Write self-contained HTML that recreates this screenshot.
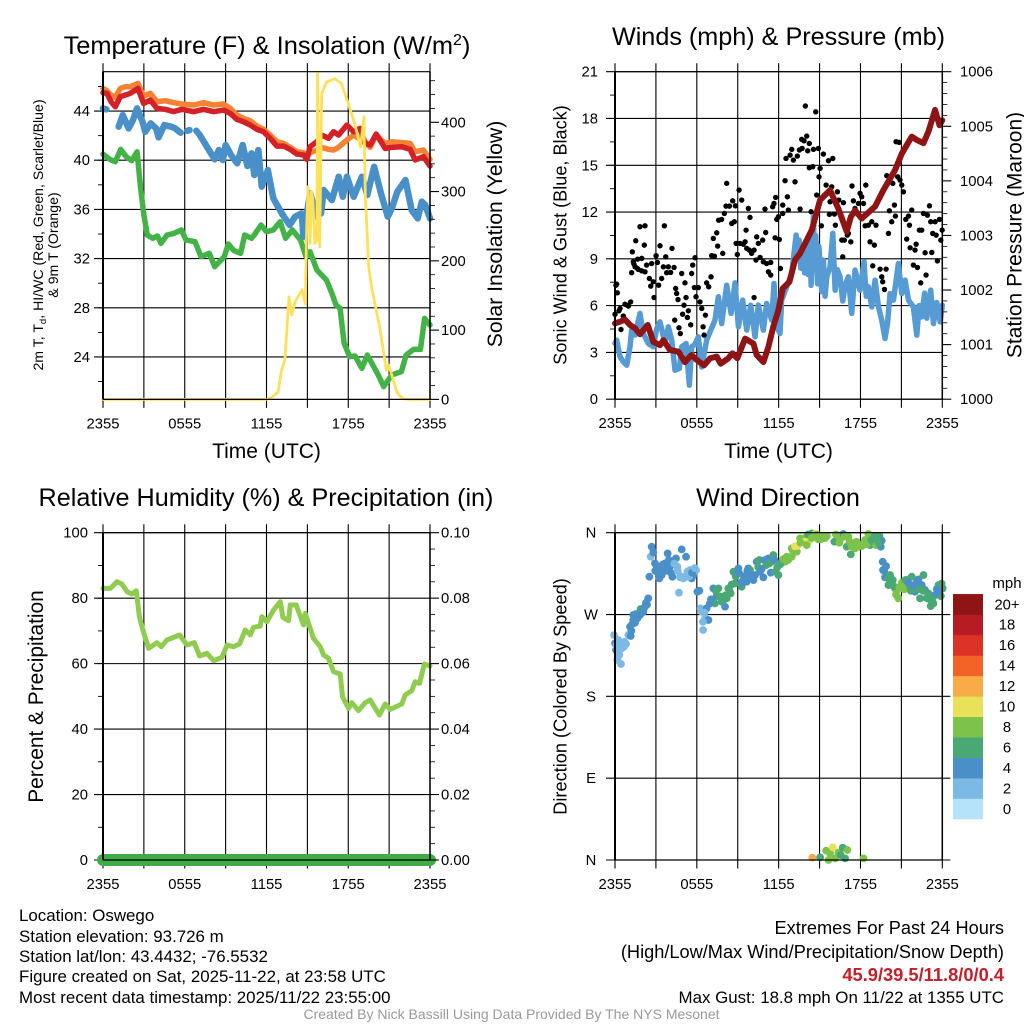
<!DOCTYPE html>
<html lang="en">
<head>
<meta charset="utf-8">
<title>Oswego Meteogram</title>
<style>
html,body{margin:0;padding:0;background:#fff;}
svg{display:block;font-family:"Liberation Sans",sans-serif;}
text{fill:#000;}
</style>
</head>
<body>
<svg id="chart" xmlns="http://www.w3.org/2000/svg" width="1024" height="1024" viewBox="0 0 1024 1024">
<rect x="0" y="0" width="1024" height="1024" fill="#fff"/>
<g id="layer-grid"></g>
<g id="layer-data"></g>
<g id="layer-axes"></g>

<text x="267" y="54" font-size="25.4" text-anchor="middle">Temperature (F) &amp; Insolation (W/m<tspan dy="-9" font-size="16">2</tspan><tspan dy="9">)</tspan></text>
<text x="778.5" y="45" font-size="25.2" text-anchor="middle">Winds (mph) &amp; Pressure (mb)</text>
<text x="266" y="506" font-size="25.2" text-anchor="middle">Relative Humidity (%) &amp; Precipitation (in)</text>
<text x="778" y="506" font-size="25.2" text-anchor="middle">Wind Direction</text>

<text x="266.5" y="458" font-size="21" text-anchor="middle">Time (UTC)</text>
<text x="778.5" y="458" font-size="21" text-anchor="middle">Time (UTC)</text>

<text transform="translate(43,235) rotate(-90)" font-size="14.1" text-anchor="middle">2m T, T<tspan dy="3" font-size="9.5">d</tspan><tspan dy="-3">, HI/WC (Red, Green, Scarlet/Blue)</tspan></text>
<text transform="translate(58,245) rotate(-90)" font-size="14.1" text-anchor="middle">&amp; 9m T (Orange)</text>
<text transform="translate(502,234) rotate(-90)" font-size="21.2" text-anchor="middle">Solar Insolation (Yellow)</text>
<text transform="translate(566.5,235) rotate(-90)" font-size="18.1" text-anchor="middle">Sonic Wind &amp; Gust (Blue, Black)</text>
<text transform="translate(1021.5,235) rotate(-90)" font-size="21" text-anchor="middle">Station Pressure (Maroon)</text>
<text transform="translate(43,696.5) rotate(-90)" font-size="20.9" text-anchor="middle">Percent &amp; Precipitation</text>
<text transform="translate(566.5,696.5) rotate(-90)" font-size="18.2" text-anchor="middle">Direction (Colored By Speed)</text>

<g id="legend">
<text x="1007" y="588" font-size="15" text-anchor="middle">mph</text>
</g>

<g font-size="16.9">
<text x="19" y="921">Location: Oswego</text>
<text x="19" y="942">Station elevation: 93.726 m</text>
<text x="19" y="962">Station lat/lon: 43.4432; -76.5532</text>
<text x="19" y="982">Figure created on Sat, 2025-11-22, at 23:58 UTC</text>
<text x="19" y="1003">Most recent data timestamp: 2025/11/22 23:55:00</text>
</g>
<g font-size="16.9" text-anchor="end">
<text x="1004" y="934" font-size="18.2">Extremes For Past 24 Hours</text>
<text x="1004" y="958" font-size="18.2">(High/Low/Max Wind/Precipitation/Snow Depth)</text>
<text x="1004" y="981" font-size="18.3" font-weight="bold" style="fill:#c4202a">45.9/39.5/11.8/0/0.4</text>
<text x="1004" y="1003">Max Gust: 18.8 mph On 11/22 at 1355 UTC</text>
</g>
<text x="511.5" y="1019" font-size="14" text-anchor="middle" style="fill:#9a9a9a">Created By Nick Bassill Using Data Provided By The NYS Mesonet</text>
</svg>

<script>
// ---- shared axis data ----
const gridHours = [0, 3, 6, 9, 12, 15, 18, 21, 24];
const timeTickHours = [0, 6, 12, 18, 24];
const timeTickLabels = ["2355", "0555", "1155", "1755", "2355"];

// ---- temperature panel ----
const tempTicks = [24, 28, 32, 36, 40, 44];
const insolationTicks = [0, 100, 200, 300, 400];

const airTempHours = [0,0.29,0.59,0.9,1.27,1.64,2,2.57,2.98,3.47,3.96,4.57,5.18,5.79,6.65,7.38,8.12,8.85,9.34,9.83,10.32,10.81,11.3,11.78,12.27,12.76,13.25,13.74,14.23,14.72,14.96,15.2,15.7,16.06,16.55,16.92,17.29,17.9,18.39,18.88,19.24,19.61,20.05,20.71,21.2,21.93,22.54,22.91,23.52,24];
const airTempValues = [45.49,45.44,44.76,44.35,45.17,45.3,45.44,45.84,44.62,44.89,44.22,44.14,43.95,44.14,43.95,44.14,43.95,44.08,43.81,43.32,43.13,42.86,42.51,42.32,41.78,41.15,41.15,40.88,40.5,40.42,40.07,41.1,41.51,42.05,41.78,42.32,42.05,42.86,42.32,42.59,41.37,41.24,42.13,40.96,41.05,41.1,40.88,40.02,40.29,39.53];
const nineMeterTempValues = [45.84,45.65,45.3,45.11,45.84,45.98,45.98,46.25,45.22,45.44,44.76,44.84,44.68,44.57,44.49,44.68,44.49,44.57,44.22,43.67,43.4,43.21,42.78,42.51,42.05,41.51,41.37,41.05,40.69,40.61,40.29,40.61,40.83,41.05,40.88,40.83,41.05,41.64,42.05,41.7,41.5,41.05,42.05,41.37,41.5,41.43,41.37,40.69,40.83,40.07];

const heatIndexHours = [0,0.25,0.5,1.15,1.45,1.88,2.2,2.5,2.9,3.1,3.5,3.9,4.08,4.5,5,5.3,5.7,5.9,6.2,6.35,6.6,6.85,7.1,7.4,7.85,8.2,8.5,8.8,9,9.4,9.85,10.25,10.6,10.9,11.1,11.4,11.65,12.1,12.5,13.2,13.7,14.1,14.6,14.7,15.2,15.7,16,16.2,16.8,17.3,17.6,17.9,18.4,19,19.4,19.9,20.4,20.9,21.2,21.6,22.2,22.65,23.1,23.4,23.65,24];
const heatIndexValues = [44.22,44.14,null,42.73,43.67,42.59,43.27,44.22,43.13,42.32,43,42.59,41.86,42.86,42.73,42.59,42.24,null,42.4,42.45,null,42.4,42.05,41.51,40.69,40.07,40.83,40.02,41.24,40.42,39.75,41.24,39.53,40.56,38.8,40.83,37.85,39.2,36.9,35.54,34.73,35.41,35.68,33.78,37.31,35.41,35.68,37.58,36.76,38.66,37.03,38.66,37.03,38.66,37.17,39.47,37.31,35.41,36.09,37.44,38.39,35.95,35.27,36.63,36.36,35.27];

const dewPointHours = [0,0.5,0.9,1.3,1.7,2.1,2.5,2.75,3,3.25,3.65,4,4.25,4.7,5.2,5.75,6.1,6.75,7.2,7.8,8.2,8.9,9.2,9.6,10.1,10.4,10.9,11.1,11.6,12,12.5,13,13.4,13.9,14.5,14.9,15.2,15.7,16.4,16.8,17.1,17.4,17.7,18.1,18.5,19,19.4,20.2,20.6,21.2,21.9,22.25,22.8,23.3,23.6,24];
const dewPointValues = [40.5,40.07,39.88,40.88,40.29,39.96,40.69,37.85,35.54,33.92,33.65,33.84,33.24,33.92,34.05,34.33,33.51,33.38,32.16,32.43,31.34,32.16,33.19,32.65,32.43,33.92,33.65,33.92,34.73,34.19,34.33,35,33.65,34.33,33.51,32.16,32.56,31.07,30.26,29.18,28.23,27.96,25.11,24.03,24.08,23.08,24.16,22.54,21.59,22.54,22.81,24.16,24.62,24.62,27.14,26.6];

const insolationHours = [0,12,12.4,12.85,13.1,13.35,13.65,13.85,14.1,14.6,14.85,14.95,15.05,15.2,15.3,15.4,15.55,15.7,15.75,15.9,16.05,16.4,17,17.5,18,18.5,18.9,19.15,19.25,19.5,19.75,20.3,20.8,20.95,21.2,21.6,22,22.4,24];
const insolationValues = [0,0,3,11,42,57,148,122,141,158,138,249,307,225,300,288,225,230,470,220,441,458,463,456,427,396,364,408,297,191,158,105,42,50,35,9,1,0,0];

// ---- winds panel ----
const windTicks = [0, 3, 6, 9, 12, 15, 18, 21];
const pressureTicks = [1000, 1001, 1002, 1003, 1004, 1005, 1006];

const windHours = [0,0.12,0.37,0.61,0.86,1.1,1.22,1.47,1.83,2.08,2.44,2.81,3.05,3.3,3.67,3.91,4.16,4.4,4.72,4.89,5.21,5.45,5.62,5.85,6.11,6.36,6.72,6.97,7.33,7.58,7.82,8.19,8.51,8.8,9.05,9.36,9.66,9.95,10.27,10.51,10.88,11.12,11.49,11.66,11.86,12.1,12.22,12.59,12.96,13.28,13.4,13.5,13.62,13.75,13.9,14.02,14.15,14.3,14.38,14.47,14.55,14.65,14.72,14.85,14.95,15.16,15.28,15.4,15.53,15.77,15.97,16.14,16.3,16.5,16.7,16.87,17.11,17.36,17.6,17.97,18.26,18.42,18.58,18.83,19.07,19.32,19.56,19.8,19.98,20.17,20.42,20.78,21.03,21.27,21.52,21.88,22.13,22.3,22.49,22.7,22.86,23.15,23.35,23.59,23.84,24];
const windValues = [3.57,3.79,2.72,2.4,2.18,3.36,4.43,4.11,5.5,4.21,3.57,3.36,4.5,4.96,3.57,4.64,3.79,1.86,1.97,3.36,3.57,0.9,3.36,3.5,4,2.07,3.79,4.32,5.07,6.57,4.85,7.31,5.5,7.46,4.64,6.35,4.43,6.03,4,6.03,4.43,6.14,5.07,7.42,4.64,4.21,6.35,7.21,8.06,10.52,9.2,10.2,8.4,9.6,8.1,10.1,8,10.4,7.3,10.2,11.7,8.3,10.5,7.4,9.8,6.9,8.92,6.6,7.85,8.49,10.63,6.99,8.3,7.85,6.3,7.3,7.85,5.5,8.28,6.99,8.81,6.6,7.21,5.92,7.63,5.92,5.07,3.89,4.85,6.78,6.35,8.7,6.78,7.63,6.35,5.92,4.11,6,5.28,6.8,5.2,6.99,4.85,6.2,4.96,6.03];

const gustHours = [0.07,0.12,0.17,0,0.37,0.29,0.61,0.44,0.73,0.9,0.98,1.15,1.22,1.27,1.34,1.39,1.52,1.47,1.71,1.64,1.83,1.66,1.96,1.96,2.15,2.2,2.2,2.32,2.52,2.62,2.69,2.81,2.86,3.01,3.11,3.3,3.2,3.42,3.62,3.55,3.72,3.79,3.91,4.08,4.18,4.33,4.45,4.38,4.52,4.62,4.69,4.79,4.89,5.06,5.13,5.21,4.96,5.31,5.38,5.55,5.62,5.7,5.87,5.82,5.94,6.11,6.23,6.36,6.63,6.46,6.53,6.72,6.87,7.04,7.09,7.29,7.21,7.46,7.53,7.6,7.82,7.9,8.02,8.19,8.14,8.39,8.56,8.63,8.75,8.83,8.88,8.97,9.1,9.17,9.29,9.41,9.54,9.61,9.66,9.78,9.9,9.85,10.02,10.2,10.34,10.2,10.39,10.51,10.64,10.83,10.88,11,11.05,11.12,11.25,11.42,11.42,11.56,11.66,11.78,11.74,11.86,11.98,12.05,12.13,12.3,12.3,12.47,12.54,12.64,12.71,12.84,12.96,13.08,13.2,13.37,13.52,13.57,13.72,13.69,13.86,13.96,14.06,14.13,14.25,14.25,14.5,14.55,14.72,14.91,14.96,15.04,14.38,14.79,15.13,15.28,15.48,15.65,15.77,15.89,15.97,15.72,16.09,16.16,16.31,16.41,16.63,16.75,16.82,16.7,17.04,17.11,17.29,17.38,17.48,17.6,17.85,17.97,18.09,18.22,18.39,18.34,18.58,18.7,18.83,18.9,19.02,19.14,19.44,19.56,19.63,19.76,19.88,19.93,20.05,20.12,20.29,20.37,20.49,20.56,20.61,20.83,20.73,20.9,21.03,21.15,21.32,21.39,21.52,21.64,21.76,21.59,22,21.88,22.18,22.08,22.32,22.42,22.49,22.62,22.74,22.81,22.91,23.06,23.23,23.15,23.3,23.47,23.64,23.55,23.79,23.89,23.99];
const gustValues = [7.31,7.38,6.82,5.45,5.82,5.67,5.33,4.47,6.09,6.03,5.97,6.24,8.11,9.45,8.81,8.66,10.16,8.49,8.32,8.38,11.06,8.98,9.03,8.23,9.88,11.12,8.17,8.6,7.74,7.25,8.7,7.53,6.52,9.2,8.77,9.84,7.31,7.74,11.12,8.49,9.13,8.11,8.49,8.13,9.67,8.45,7.1,5.07,6.78,6.39,4.58,4.21,8.06,6.03,7.46,6.52,5.45,5.24,5.67,4.77,8.06,8.6,9.07,7.16,6.57,7.16,6.24,5.82,5.39,4.64,4.11,7.46,7.21,7.85,9.2,9.17,10.31,10.67,9.82,11.48,11.53,9.35,11.91,13.84,12.38,12.38,11.27,12.72,11.38,12.4,9.99,9.28,13.41,9.99,12.77,9.94,10.09,10.84,9.67,12.23,11.66,9.56,9.35,9.56,8.92,6.52,10.41,9.99,9.09,10.2,8.81,12.19,10.69,8.7,8.17,7.96,8.77,12.34,12.55,12.94,10.35,11.53,11.7,10.24,8.38,12.45,11.91,14.01,15.44,12.98,12.13,15.65,16.02,15.33,13.94,15.59,15.98,12.19,16.08,16.66,16.57,18.8,16.87,15.93,16.4,14.84,14.91,16.02,18.43,16.08,14.26,14.8,12.02,13.09,11.12,15.72,13.73,15.29,12.66,13.62,15.44,11.85,11.87,11.16,13.3,12.77,10.2,12.6,10.2,9.13,10.52,10.63,10.09,13.67,12.72,12.23,12.55,13.2,12.98,12.55,13.73,11.12,11.16,10.09,11.38,8.55,9.88,11.16,8.34,7.85,7.53,7.04,8.34,14.33,10.63,12.08,11.38,13.84,12.45,11.74,16.51,16.47,14.26,14.05,13.73,13.3,11.53,10.27,11.74,9.71,12.13,11.16,9.56,8.6,8.45,9.94,10.84,7.46,10.84,11.91,9.39,7.96,11.8,12.4,9.41,11.38,10.63,11.38,8.87,10.52,11.53,10.2,10.84];

const pressureHours = [0,0.37,0.73,1.1,1.47,1.83,2.4,2.81,3.3,3.55,4.03,4.65,5.13,5.62,5.99,6.53,6.97,7.46,7.75,8.31,8.61,8.97,9.54,10.15,10.39,10.88,11.25,11.61,11.98,12.3,12.79,13.2,13.57,14.43,15.04,15.77,16.38,16.99,17.29,17.6,18.09,19.07,19.68,20.54,21.03,21.76,22.13,22.62,22.98,23.47,23.79,24];
const pressureValues = [1001.39,1001.42,1001.46,1001.36,1001.3,1001.19,1001.36,1001.05,1000.99,1001.08,1000.9,1000.87,1000.68,1000.81,1000.72,1000.62,1000.75,1000.78,1000.65,1000.75,1000.84,1000.75,1001.11,1001.02,1000.81,1000.68,1000.96,1001.33,1001.63,1002.03,1002.15,1002.55,1002.67,1003.1,1003.65,1003.83,1003.49,1003.07,1003.34,1003.46,1003.31,1003.53,1003.83,1004.2,1004.5,1004.81,1004.75,1004.69,1004.9,1005.3,1005.02,1005.11];

// ---- humidity panel ----
const humidityTicks = [0, 20, 40, 60, 80, 100];
const precipTicks = ["0.00", "0.02", "0.04", "0.06", "0.08", "0.10"];

const humidityHours = [0,0.54,1.03,1.39,1.76,2.13,2.44,2.67,2.93,3.35,3.96,4.28,4.69,5.18,5.62,6.16,6.7,7.09,7.63,8.12,8.73,9.1,9.58,10.02,10.44,10.81,11.05,11.54,11.66,12.03,12.52,13.01,13.2,13.62,13.74,14.18,14.72,14.84,15.45,15.94,16.19,16.55,16.92,17.41,17.58,18.02,18.26,18.75,19.24,19.61,20.29,20.71,21.08,21.93,22.18,22.66,22.91,23.23,23.59,24];
const humidityValues = [83,83,85.03,84.32,81.98,81.26,82.28,74.34,70.26,64.66,66.4,65.17,67.21,68.02,68.74,65.68,66.4,62.32,63.14,60.9,61.91,65.68,65.17,65.99,70.26,68.74,71.08,71.49,74.34,72.81,76.37,78.92,74.13,73.12,77.9,77.9,71.79,75.36,67.72,65.17,62.63,61.61,57.54,56.82,49.9,46.33,48.07,45.62,48.07,48.88,44.3,47.66,46.03,47.66,50.41,51.73,54.48,53.97,59.88,59.27];
const precipHours = [0, 24];
const precipValues = [0, 0];

// ---- wind direction panel ----
const directionTickDegrees = [0, 90, 180, 270, 360];
const directionTickLabels = ["N", "E", "S", "W", "N"];
const directionHours = [-0.07,0,0.07,0.17,0.24,0.32,0.44,0.49,0.66,0.81,0.98,1.15,1.1,1.27,1.34,1.47,1.34,1.64,1.54,1.83,1.88,2.08,2.2,2.27,2.44,2.52,2.62,2.69,2.81,2.93,3.06,3.25,3.42,3.55,3.67,3.86,3.79,4.03,4.21,4.47,4.57,4.69,4.77,4.89,5.01,5.21,5.31,5.5,5.62,5.75,5.94,6.04,6.19,6.28,6.36,6.46,6.6,6.72,6.85,7.04,7.21,7.33,7.46,7.58,7.82,8.07,8.19,8.31,8.48,8.68,8.8,9.05,9.12,9.29,9.41,9.66,9.78,9.9,10.15,10.27,10.39,10.59,10.64,10.88,11.08,11.25,11.49,11.61,11.42,11.78,11.98,12.22,12.47,12.59,12.96,12.96,13.33,13.37,13.57,13.86,13.94,14.25,14.06,14.43,14.67,14.55,14.91,15.23,15.53,16.09,16.38,16.55,16.75,16.99,17.11,17.29,17.48,17.6,17.85,18.09,18.34,18.58,18.7,18.95,19.14,19.19,19.39,19.56,19.49,19.63,19.88,19.73,19.8,20.05,20.17,20.37,20.54,20.66,20.78,21.03,21.2,21.39,21.59,21.76,22,22.25,22.37,22.49,22.62,22.74,22.98,23.15,23.35,23.47,23.72,23.89,24.03,14.47,15.04,15.65,15.48,15.77,15.97,16.14,16.38,16.7,16.87,17.04,16.55,18.22,0.1,0.2,0.35,0.55,0.7,1.2,1.45,1.7,1.95,2.35,2.95,3.15,3.35,3.5,3.75,3.95,4.1,4.35,4.6,4.85,5.15,5.45,5.65,5.85,6.45,6.55,6.95,7.4,7.7,7.95,8.1,8.4,8.55,8.85,9,9.25,9.5,9.7,10,10.5,10.75,11,11.3,11.7,11.9,12.1,12.35,12.7,13.05,13.2,13.6,14.15,14.4,14.8,15.1,15.4,16.2,16.45,16.85,17.2,17.35,17.7,18.2,18.45,18.8,19.05,19.25,19.35,19.65,20,20.25,20.45,20.6,20.85,21.1,21.3,21.5,21.7,21.9,22.1,22.3,22.6,22.85,23.05,23.25,23.6,23.8,23.95];
const directionDegrees = [247.5,238.3,231,220,242,225.5,215.6,232.8,234.6,237.6,247.5,246.4,256.6,259.6,264,261,269.5,265.8,270.6,269.5,276,273,278.6,283,287.8,311.6,333.6,344.6,338.4,326.3,322.6,309.8,313.4,318.9,326.3,337.3,322.6,322.6,311.6,331.8,322.6,294,310.9,341.7,309.8,333.6,317.1,318.9,309.8,313.4,318.9,295.1,296.2,276.8,273.1,253,265.8,276.8,264,286.7,298.8,282.3,290.3,298.8,284.1,278.6,287.8,298.8,293.3,317.1,304.3,320.8,315.3,300.6,307.9,306.1,320.8,318.9,307.9,313.4,328.1,329.9,317.1,310.9,324.4,331.8,328.1,335.4,316,317.1,313.4,327,328.1,333.6,333.6,342.8,339.1,345.3,353.8,353.8,350.1,351.2,346.4,359.3,358.5,355.6,352.7,356.3,356.3,350.1,355.6,353.8,358.5,344.6,355.6,336.2,348.3,342.8,344.6,345.3,351.9,358.5,346.4,351.9,346.4,355.6,356.3,351.2,344.6,328.1,323.3,318.2,310.9,302.4,313.4,307.9,298.8,296.9,287.8,305,297.7,307.9,300.6,311.6,295.1,308.7,287.8,302.4,313.4,296.9,293.3,279.3,282.3,291.4,302.4,290.3,298.8,2.6,2.9,0,10.3,7.3,13.9,1.8,8.1,13.6,1.8,11,5.5,1.8,236,228,232,236,240,252,262,268,272,281,318,316,320,325,318,330,316,326,318,312,311,312,316,321,262,272,282,296,290,286,291,296,303,312,316,305,312,318,312,322,320,330,326,330,322,325,331,330,340,345,349,358,354,358,353,354,358,349,356,350,345,350,348,347,352,356,352,348,319,310,305,301,292,300,300,308,305,296,302,305,298,296,288,287,286,298,296,304];
const directionSpeeds = [2,4,4,2,2,2,2,2,2,2,2,4,4,4,4,4,4,4,4,4,6,4,4,4,4,4,2,4,4,4,4,4,4,4,4,4,4,4,4,4,2,2,2,4,2,4,2,2,4,4,2,4,4,2,2,2,2,4,4,4,4,6,4,6,6,4,6,6,6,6,6,4,6,6,4,4,4,6,4,4,4,6,4,4,6,4,6,6,4,6,6,6,8,8,8,8,8,10,8,8,10,10,8,6,10,8,8,8,8,6,8,8,4,6,8,6,8,8,8,8,8,8,6,6,8,6,6,4,4,4,4,4,4,6,6,6,6,8,8,8,8,4,6,6,4,4,6,4,6,4,6,6,6,4,6,6,6,12,6,8,8,8,10,8,8,6,6,8,6,8,2,2,2,2,2,4,4,4,4,4,4,4,4,4,4,4,4,2,2,2,2,2,4,2,2,2,4,6,6,6,6,6,6,6,4,4,4,4,4,6,4,4,6,4,6,6,8,8,8,10,8,6,8,8,8,8,8,8,8,8,8,8,8,8,6,6,6,6,4,6,6,6,8,8,8,6,4,6,4,4,6,6,6,6,6,4,4,6];

// ---- colour legend ----
const legendLabels = ["0", "2", "4", "6", "8", "10", "12", "14", "16", "18", "20+"];
const legendColors = ["#b5e3f9", "#7db9e5", "#4a8fc7", "#49a874", "#7cc24b", "#e8e159", "#f8ab47", "#f26328", "#dc3327", "#b71c24", "#8f1416"];

// ---- drawing helpers ----
const SVG_NS = "http://www.w3.org/2000/svg";
const gridLayer = document.getElementById("layer-grid");
const dataLayer = document.getElementById("layer-data");
const axesLayer = document.getElementById("layer-axes");

function make(tag, attrs, parent) {
  const node = document.createElementNS(SVG_NS, tag);
  for (const key in attrs) node.setAttribute(key, attrs[key]);
  parent.appendChild(node);
  return node;
}

// A panel maps hours to x and a value domain to y.
function makePanel(left, top, right, bottom) {
  return {
    left: left, top: top, right: right, bottom: bottom,
    x: function (hour) { return left + (hour / 24) * (right - left); },
    y: function (value, domain) { return bottom - ((value - domain[0]) / (domain[1] - domain[0])) * (bottom - top); }
  };
}

function linePath(panel, hours, values, domain) {
  let d = "";
  let pen = false;
  for (let i = 0; i < hours.length; i++) {
    if (values[i] === null) { pen = false; continue; }
    d += (pen ? "L" : "M") + panel.x(hours[i]).toFixed(2) + " " + panel.y(values[i], domain).toFixed(2);
    pen = true;
  }
  return d;
}

function drawLine(panel, hours, values, domain, color, width, name) {
  const path = make("path", { d: linePath(panel, hours, values, domain), fill: "none", stroke: color, "stroke-width": width, "stroke-linejoin": "round", "stroke-linecap": "round" }, dataLayer);
  
  
}

function segment(x1, y1, x2, y2, width, parent, name) {
  const ln = make("line", { x1: x1, y1: y1, x2: x2, y2: y2, stroke: "#000", "stroke-width": width }, parent);
  
  
}

function label(x, y, content, anchor, size, name) {
  const t = make("text", { x: x, y: y, "text-anchor": anchor, "font-size": size }, axesLayer);
  t.textContent = content;
  
  
}

function drawTimeAxis(panel) {
  gridHours.forEach(function (hour) {
    const x = panel.x(hour);
    segment(x, panel.top - 8.5, x, panel.bottom + 8.5, 1.1, gridLayer, "time-grid-line");
  });
  timeTickHours.forEach(function (hour, i) {
    label(panel.x(hour), panel.bottom + 29, timeTickLabels[i], "middle", 14.8, "time-tick-label");
  });
}

function drawLeftAxis(panel, ticks, labels, domain, minorStep, labelRight) {
  ticks.forEach(function (value, i) {
    const y = panel.y(value, domain);
    segment(panel.left - 9, y, panel.right, y, 1.1, gridLayer, "value-grid-line");
    label(labelRight, y + 5, labels[i], "end", 14.8, "left-tick-label");
  });
  if (minorStep) {
    for (let value = domain[0] - (domain[0] % minorStep) + minorStep; value < domain[1]; value += minorStep) {
      const y = panel.y(value, domain);
      segment(panel.left - 5, y, panel.left, y, 0.9, gridLayer, "left-minor-tick");
    }
  }
}

function drawRightAxis(panel, ticks, labels, domain, minorStep, labelLeft) {
  for (let i = 0; i < ticks.length; i++) {
    const y = panel.y(ticks[i], domain);
    segment(panel.right, y, panel.right + 9, y, 1.1, axesLayer, "right-major-tick");
    label(labelLeft, y + 5, labels[i], "start", 14.8, "right-tick-label");
    if (i < ticks.length - 1 || domain[1] > ticks[i]) {
      for (let v = ticks[i] + minorStep; v < domain[1] && v < ticks[i] + (ticks[1] - ticks[0]) - minorStep / 2; v += minorStep) {
        const ym = panel.y(v, domain);
        segment(panel.right, ym, panel.right + 5, ym, 0.8, axesLayer, "right-minor-tick");
      }
    }
  }
}

function drawFrame(panel) {
  segment(panel.left, panel.top, panel.right, panel.top, 1.2, axesLayer, "frame-top");
  segment(panel.left, panel.bottom, panel.right, panel.bottom, 1.2, axesLayer, "frame-bottom");
  segment(panel.left, panel.top, panel.left, panel.bottom, 2, axesLayer, "frame-left");
  segment(panel.right, panel.top, panel.right, panel.bottom, 1.5, axesLayer, "frame-right");
}

// ---- temperature panel ----
const tempPanel = makePanel(103, 71.7, 430, 399.4);
const tempDomain = [20.55, 47.2];
const insolationDomain = [0, 473];
drawTimeAxis(tempPanel);
drawLeftAxis(tempPanel, tempTicks, tempTicks, tempDomain, 2, 90);
drawRightAxis(tempPanel, insolationTicks, insolationTicks, insolationDomain, 20, 441);
drawLine(tempPanel, dewPointHours, dewPointValues, tempDomain, "#44b347", 5.5, "dew-point-line");
drawLine(tempPanel, heatIndexHours, heatIndexValues, tempDomain, "#4a90c8", 6.5, "heat-index-line");
drawLine(tempPanel, airTempHours, nineMeterTempValues, tempDomain, "#f58233", 5.5, "nine-meter-temperature-line");
drawLine(tempPanel, airTempHours, airTempValues, tempDomain, "#d42027", 5.5, "air-temperature-line");
drawLine(tempPanel, insolationHours, insolationValues, insolationDomain, "#fee15a", 2.8, "solar-insolation-line");
drawFrame(tempPanel);

// ---- winds panel ----
const windPanel = makePanel(615, 71.7, 942.3, 399.2);
const windDomain = [0, 21];
const pressureDomain = [1000, 1006];
drawTimeAxis(windPanel);
drawLeftAxis(windPanel, windTicks, windTicks, windDomain, 1.5, 598);
drawRightAxis(windPanel, pressureTicks, pressureTicks, pressureDomain, 0.2, 960);
drawLine(windPanel, windHours, windValues, windDomain, "#569bd3", 5.5, "sustained-wind-line");
gustHours.forEach(function (hour, i) {
  const dot = make("circle", { cx: windPanel.x(hour).toFixed(2), cy: windPanel.y(gustValues[i], windDomain).toFixed(2), r: 2.7, fill: "#000" }, dataLayer);
  
  
});
drawLine(windPanel, pressureHours, pressureValues, pressureDomain, "#8f1416", 6, "station-pressure-line");
drawFrame(windPanel);

// ---- humidity panel ----
const humidityPanel = makePanel(103, 532.7, 430, 860);
const humidityDomain = [0, 100];
const precipDomain = [0, 0.1];
const precipTickValues = precipTicks.map(Number);
drawTimeAxis(humidityPanel);
drawLeftAxis(humidityPanel, humidityTicks, humidityTicks, humidityDomain, 10, 88);
drawRightAxis(humidityPanel, precipTickValues, precipTicks, precipDomain, 0.005, 441);
drawLine(humidityPanel, humidityHours, humidityValues, humidityDomain, "#90cc4f", 5, "relative-humidity-line");
drawLine(humidityPanel, precipHours, precipValues, precipDomain, "#41ab45", 12, "precipitation-line");
drawFrame(humidityPanel);

// ---- wind direction panel ----
const directionPanel = makePanel(615, 532.7, 942.3, 860);
const directionDomain = [0, 360];
drawTimeAxis(directionPanel);
directionTickDegrees.forEach(function (deg, i) {
  const y = directionPanel.y(deg, directionDomain);
  segment(directionPanel.left - 9, y, directionPanel.right + 8, y, 1.1, gridLayer, "direction-grid-line");
  label(591, y + 5, directionTickLabels[i], "middle", 14.8, "direction-tick-label");
});
directionHours.forEach(function (hour, i) {
  const bin = Math.min(legendColors.length - 1, Math.floor(directionSpeeds[i] / 2));
  const dot = make("circle", { cx: directionPanel.x(hour).toFixed(2), cy: directionPanel.y(directionDegrees[i], directionDomain).toFixed(2), r: 3.9, fill: legendColors[bin] }, dataLayer);
  
  
});
drawFrame(directionPanel);

// ---- colour legend ----
const legendGroup = document.getElementById("legend");
const legendBottom = 819;
const legendStep = 20.45;
legendLabels.forEach(function (text, i) {
  const y = legendBottom - (i + 1) * legendStep;
  const swatch = make("rect", { x: 953, y: y.toFixed(2), width: 30, height: legendStep + 0.3, fill: legendColors[i] }, legendGroup);
  
  
  const caption = make("text", { x: 1007, y: (y + legendStep / 2 + 5).toFixed(2), "font-size": 14.8, "text-anchor": "middle" }, legendGroup);
  caption.textContent = text;
  
  
});
</script>
</body>
</html>
